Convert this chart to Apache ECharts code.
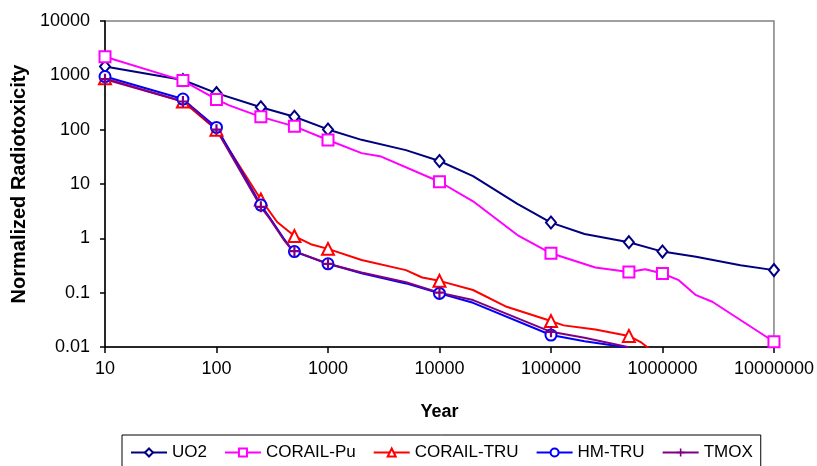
<!DOCTYPE html>
<html>
<head>
<meta charset="utf-8">
<script src="https://cdn.jsdelivr.net/npm/echarts@6/dist/echarts.min.js"></script>
<style>
  html, body { margin: 0; padding: 0; background: #fff; }
  #chart { width: 817px; height: 466px; }
</style>
</head>
<body>
<div id="chart"></div>
<script>
// years that carry a marker (Excel only marks the tabulated points)
const markerYears = [10, 50, 100, 250, 500, 1000, 10000, 100000, 500000, 1000000, 10000000]

const xTicks = [10, 100, 1000, 10000, 100000, 1000000, 10000000]
const yTicks = [0.01, 0.1, 1, 10, 100, 1000, 10000]

const uo2Years = [10, 50, 100, 250, 500, 1000, 2000, 5000, 10000, 20000, 50000, 100000, 200000, 500000, 1000000, 2000000, 5000000, 10000000]
const uo2Values = [1450, 820, 470, 258, 173, 101, 65, 42, 26.5, 14, 4.3, 1.95, 1.2, 0.85, 0.57, 0.46, 0.32, 0.26]

const puYears = [10, 50, 100, 130, 250, 500, 1000, 2000, 3000, 10000, 20000, 50000, 100000, 250000, 500000, 700000, 1000000, 1400000, 2000000, 2800000, 10000000]
const puValues = [2200, 800, 360, 280, 172, 115, 64.5, 37, 32, 11, 4.8, 1.15, 0.53, 0.29, 0.24, 0.27, 0.225, 0.17, 0.09, 0.068, 0.0125]

const truYears = [10, 50, 100, 250, 350, 500, 700, 1000, 2000, 5000, 7000, 10000, 20000, 40000, 100000, 130000, 250000, 500000, 650000, 850000]
const truValues = [880, 330, 100, 5.2, 2.0, 1.1, 0.78, 0.64, 0.40, 0.26, 0.19, 0.165, 0.112, 0.055, 0.03, 0.025, 0.021, 0.016, 0.012, 0.0078]

const hmYears = [10, 50, 60, 100, 250, 300, 400, 450, 500, 1000, 2000, 5000, 10000, 20000, 100000, 200000, 500000]
const hmValues = [950, 366, 265, 110, 4.1, 2.4, 1.0, 0.72, 0.57, 0.34, 0.227, 0.148, 0.097, 0.065, 0.0166, 0.0128, 0.0097]

const tmoxYears = [10, 50, 60, 100, 250, 300, 400, 450, 500, 1000, 2000, 5000, 10000, 20000, 100000, 200000, 500000]
const tmoxValues = [850, 330, 255, 100, 3.8, 2.3, 0.95, 0.7, 0.58, 0.34, 0.235, 0.155, 0.1, 0.073, 0.019, 0.0148, 0.0099]

const font = "'Liberation Sans', Arial, sans-serif"
const plus = 'path://M4,0H6V4H10V6H6V10H4V6H0V4H4Z'

const toData = (years, values) => years.map((x, i) => {
    const item = { value: [x, values[i]] }
    if (!markerYears.includes(x) || values[i] < yTicks[0]) {
        item.symbol = 'none'
    }
    return item
})

const makeSeries = (name, years, values, color, symbol, size) => ({
    name,
    type: 'line',
    data: toData(years, values),
    color,
    symbol,
    symbolSize: size,
    showSymbol: true,
    showAllSymbol: true,
    lineStyle: { width: 2, color },
    itemStyle: { color, borderWidth: 1.5 },
    clip: true
})

const chart = echarts.init(document.getElementById('chart'))

const option = {
    animation: false,
    backgroundColor: '#fff',
    grid: {
        left: 105,
        right: 42,
        top: 21,
        bottom: 119,
        show: true,
        borderColor: '#808080',
        borderWidth: 1.5
    },
    legend: {
        left: 122,
        top: 435,
        padding: [9, 8, 9, 8],
        borderColor: '#000',
        borderWidth: 1,
        itemWidth: 36,
        itemHeight: 10,
        itemGap: 17,
        textStyle: { fontFamily: font, fontSize: 17, color: '#000' },
        data: ['UO2', 'CORAIL-Pu', 'CORAIL-TRU', 'HM-TRU', 'TMOX']
    },
    xAxis: {
        type: 'log',
        logBase: 10,
        min: xTicks[0],
        max: xTicks[xTicks.length - 1],
        splitNumber: 6,
        name: 'Year',
        nameLocation: 'middle',
        nameGap: 56,
        nameTextStyle: { fontFamily: font, fontSize: 18, fontWeight: 'bold', color: '#000' },
        axisLine: { show: true, lineStyle: { color: '#000', width: 1.5 } },
        axisTick: { show: true, length: 6, lineStyle: { color: '#000', width: 1.5 } },
        axisLabel: {
            margin: 13,
            fontFamily: font,
            fontSize: 18,
            color: '#000',
            formatter: v => String(+v.toPrecision(6))
        },
        splitLine: { show: false },
        minorTick: { show: false }
    },
    yAxis: {
        type: 'log',
        logBase: 10,
        min: yTicks[0],
        max: yTicks[yTicks.length - 1],
        splitNumber: 6,
        name: 'Normalized Radiotoxicity',
        nameLocation: 'middle',
        nameGap: 76,
        nameTextStyle: { fontFamily: font, fontSize: 20, fontWeight: 'bold', color: '#000' },
        axisLine: { show: true, lineStyle: { color: '#000', width: 1.5 } },
        axisTick: { show: true, length: 5, lineStyle: { color: '#000', width: 1.5 } },
        axisLabel: {
            margin: 15,
            fontFamily: font,
            fontSize: 18,
            color: '#000',
            formatter: v => String(+v.toPrecision(6))
        },
        splitLine: { show: false },
        minorTick: { show: false }
    },
    series: [
        makeSeries('UO2', uo2Years, uo2Values, '#000080', 'emptyDiamond', [10, 12]),
        makeSeries('CORAIL-Pu', puYears, puValues, '#ff00ff', 'emptyRect', 11),
        makeSeries('CORAIL-TRU', truYears, truValues, '#ff0000', 'emptyTriangle', 12),
        makeSeries('HM-TRU', hmYears, hmValues, '#0000ff', 'emptyCircle', 11),
        makeSeries('TMOX', tmoxYears, tmoxValues, '#800080', plus, 11)
    ]
}

chart.setOption(option)
</script>
</body>
</html>
